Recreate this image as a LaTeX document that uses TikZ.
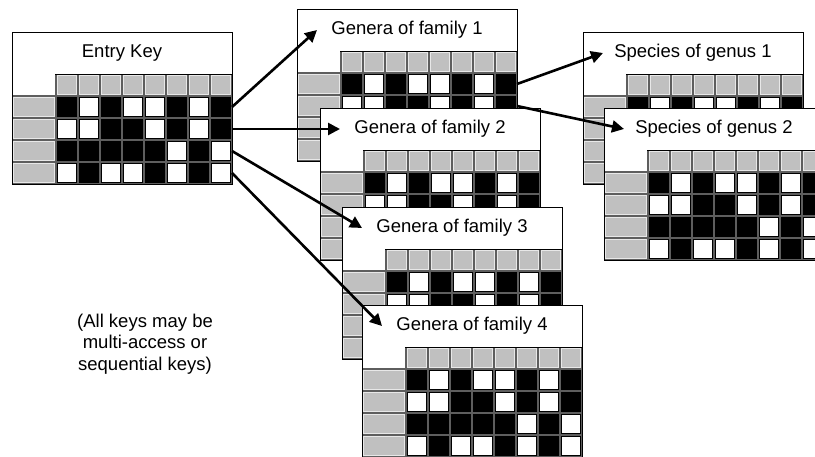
\documentclass[tikz,border=0pt]{standalone}
\usepackage{fontspec}
\setmainfont{Liberation Sans}
\usepackage{tikz}
\usetikzlibrary{arrows.meta}
\definecolor{keygrey}{HTML}{C0C0C0}
\definecolor{keyline}{HTML}{5E5E5E}
\definecolor{keylight}{HTML}{E8E8E8}
\definecolor{cell0}{HTML}{FFFFFF}
\definecolor{cell1}{HTML}{000000}

% one key table: name, left, top, title
\newcommand{\keytable}[4]{%
  \begin{scope}[shift={(#2,#3)}]
    \fill[white] (0,0) rectangle (220,152);
    \fill[keyline] (0,42) rectangle (220,152);
    \node[titlebox] (#1) at (110,21) {#4};
    \coordinate (#1-in) at (20,21);
    % header row
    \fill[white] (0,42) rectangle (43,63);
    \foreach \c in {1,...,8}
      \draw[greycell] (44+22*\c-22+1.5,43.5) rectangle (44+22*\c-1.5,62.5);
    % state rows
    \foreach \r/\row in {1/{1,0,1,0,0,1,0,1},2/{0,0,1,1,0,1,0,1},
                         3/{1,1,1,1,1,0,1,0},4/{0,1,0,0,1,0,1,0}} {
      \draw[greycell] (1.5,42+22*\r+1.5) rectangle (42.5,64+22*\r-1.5);
      \foreach \v [count=\c] in \row
        \draw[statecell, fill=cell\v] (44+22*\c-22+1.5,42+22*\r+1.5)
          rectangle (44+22*\c-1.5,64+22*\r-1.5);
      \coordinate (#1-r\r) at (220,53+22*\r);
    }
    \draw[line width=0.9pt] (0,0) rectangle (220,152);
  \end{scope}}

\begin{document}
\begin{tikzpicture}[
  x=1pt, y=-1pt,
  font=\fontsize{18.5}{21.5}\selectfont,
  titlebox/.style={draw, line width=0.9pt, fill=white, minimum width=220pt,
    minimum height=42pt, inner sep=0pt},
  greycell/.style={fill=keygrey, draw=keylight, line width=0.8pt},
  statecell/.style={draw=black, line width=0.9pt},
  link/.style={-{Triangle[length=12pt, width=12pt]}, line width=2.6pt},
  note/.style={align=center}]
\useasboundingbox (0,0) rectangle (815,457);
\clip (0,0) rectangle (815,457);
% tables
\keytable{entry}{12}{32}{Entry Key}
\keytable{fam1}{297}{9}{Genera of family 1}
\keytable{fam2}{320}{108}{Genera of family 2}
\keytable{fam3}{342}{207}{Genera of family 3}
\keytable{fam4}{362}{305}{Genera of family 4}
\keytable{spec1}{583}{32}{Species of genus 1}
\keytable{spec2}{604}{108}{Species of genus 2}
% arrows
\draw[link] (entry-r1) -- (fam1-in);
\draw[link] (entry-r2) -- (fam2-in);
\draw[link] (entry-r3) -- (fam3-in);
\draw[link] (entry-r4) -- (fam4-in);
\draw[link] (fam1-r1) -- (spec1-in);
\draw[link] (fam1-r2) -- (spec2-in);
\node[note] (note) at (145,344) {(All keys may be\\multi-access or\\sequential keys)};
\end{tikzpicture}
\end{document}
